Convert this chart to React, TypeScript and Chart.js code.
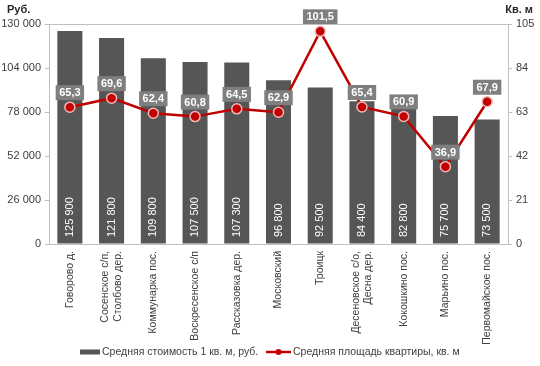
import React, { useEffect, useRef } from "react";
import { Chart, registerables } from "chart.js";

Chart.register(...registerables);

const categories: string[][] = [
  ["Говорово д."],
  ["Сосенское с/п,", "Столбово дер."],
  ["Коммунарка пос."],
  ["Воскресенское с/п"],
  ["Рассказовка дер."],
  ["Московский"],
  ["Троицк"],
  ["Десеновское с/о,", "Десна дер."],
  ["Кокошкино пос."],
  ["Марьино пос."],
  ["Первомайское пос."],
];
const pricePerSqm = [125900, 121800, 109800, 107500, 107300, 96800, 92500, 84400, 82800, 75700, 73500];
const avgArea = [65.3, 69.6, 62.4, 60.8, 64.5, 62.9, 101.5, 65.4, 60.9, 36.9, 67.9];
const leftTicks = [0, 26000, 52000, 78000, 104000, 130000];
const rightTicks = [0, 21, 42, 63, 84, 105];
const barLabel = "Средняя стоимость 1 кв. м, руб.";
const lineLabel = "Средняя площадь квартиры, кв. м";
const leftTitle = "Руб.";
const rightTitle = "Кв. м";

const BAR_COLOR = "#565656";
const LINE_COLOR = "#C00000";
const TEXT_COLOR = "#404040";
const AXIS_COLOR = "#bfbfbf";
const FONT = "'Liberation Sans', Arial, sans-serif";

const fmtThousands = (v: number) => String(v).replace(/\B(?=(\d{3})+(?!\d))/g, " ");
const fmtComma = (v: number) => v.toFixed(1).replace(".", ",");

const labelsPlugin = {
  id: "customLabels",
  afterDatasetsDraw(chart: any) {
    const ctx = chart.ctx;
    const area = chart.chartArea;
    const barMeta = chart.getDatasetMeta(0);
    ctx.save();
    ctx.font = `11px ${FONT}`;
    ctx.fillStyle = "#ffffff";
    ctx.textAlign = "left";
    ctx.textBaseline = "middle";
    barMeta.data.forEach((el: any, i: number) => {
      ctx.save();
      ctx.translate(el.x, area.bottom - 7);
      ctx.rotate(-Math.PI / 2);
      ctx.fillText(fmtThousands(pricePerSqm[i]), 0, 0);
      ctx.restore();
    });
    ctx.restore();
  },
  afterDraw(chart: any) {
    const ctx = chart.ctx;
    const area = chart.chartArea;
    const xScale = chart.scales.x;

    // category labels (rotated, reading bottom-to-top)
    ctx.save();
    ctx.font = `10.5px ${FONT}`;
    ctx.fillStyle = TEXT_COLOR;
    ctx.textAlign = "right";
    ctx.textBaseline = "middle";
    const lh = 12.5;
    categories.forEach((lines, i) => {
      const x = xScale.getPixelForValue(i);
      const n = lines.length;
      lines.forEach((ln, j) => {
        const off = (j - (n - 1) / 2) * lh;
        ctx.save();
        ctx.translate(x + off, area.bottom + 7);
        ctx.rotate(-Math.PI / 2);
        ctx.fillText(ln, 0, 0);
        ctx.restore();
      });
    });
    ctx.restore();

    // line value labels
    const lineMeta = chart.getDatasetMeta(1);
    ctx.save();
    ctx.font = `bold 11px ${FONT}`;
    ctx.textAlign = "center";
    ctx.textBaseline = "middle";
    lineMeta.data.forEach((el: any, i: number) => {
      const txt = fmtComma(avgArea[i]);
      const w = ctx.measureText(txt).width + 7;
      const h = 15;
      const bottom = el.y - 7;
      ctx.fillStyle = "#7f7f7f";
      ctx.fillRect(el.x - w / 2, bottom - h, w, h);
      ctx.fillStyle = "#ffffff";
      ctx.fillText(txt, el.x, bottom - h / 2 + 0.5);
    });
    ctx.restore();

    // top border line
    ctx.save();
    ctx.strokeStyle = AXIS_COLOR;
    ctx.lineWidth = 1;
    ctx.beginPath();
    ctx.moveTo(area.left - 4, Math.round(area.top) + 0.5);
    ctx.lineTo(area.right, Math.round(area.top) + 0.5);
    ctx.stroke();
    ctx.restore();

    // axis titles
    ctx.save();
    ctx.font = `bold 11px ${FONT}`;
    ctx.fillStyle = "#262626";
    ctx.textBaseline = "middle";
    ctx.textAlign = "left";
    ctx.fillText(leftTitle, 7, 10);
    ctx.textAlign = "right";
    ctx.fillText(rightTitle, 533, 10);
    ctx.restore();

    // legend
    ctx.save();
    const ly = 352;
    ctx.font = `10.5px ${FONT}`;
    ctx.textBaseline = "middle";
    ctx.textAlign = "left";
    ctx.fillStyle = BAR_COLOR;
    ctx.fillRect(80, ly - 2.5, 20, 5);
    ctx.fillStyle = TEXT_COLOR;
    ctx.fillText(barLabel, 102, ly);
    ctx.strokeStyle = LINE_COLOR;
    ctx.lineWidth = 2.5;
    ctx.beginPath();
    ctx.moveTo(266, ly);
    ctx.lineTo(291, ly);
    ctx.stroke();
    ctx.fillStyle = LINE_COLOR;
    ctx.beginPath();
    ctx.arc(278.5, ly, 3, 0, Math.PI * 2);
    ctx.fill();
    ctx.fillStyle = TEXT_COLOR;
    ctx.fillText(lineLabel, 293, ly);
    ctx.restore();
  },
};

export default function App() {
  const ref = useRef<HTMLCanvasElement>(null);
  useEffect(() => {
    if (!ref.current) return;
    const chart = new Chart(ref.current, {
      data: {
        labels: categories.map((c) => c.join(" ")),
        datasets: [
          {
            type: "bar",
            label: barLabel,
            data: pricePerSqm,
            backgroundColor: BAR_COLOR,
            yAxisID: "y",
            categoryPercentage: 1,
            barPercentage: 0.6,
            order: 2,
          },
          {
            type: "line",
            label: lineLabel,
            data: avgArea,
            borderColor: LINE_COLOR,
            borderWidth: 2.5,
            backgroundColor: LINE_COLOR,
            pointBackgroundColor: LINE_COLOR,
            pointBorderColor: "#f4b5b5",
            pointBorderWidth: 1.5,
            pointRadius: 5,
            yAxisID: "y1",
            order: 1,
          },
        ],
      } as any,
      options: {
        animation: false,
        responsive: true,
        maintainAspectRatio: false,
        layout: { padding: { top: 24, bottom: 30, left: 0, right: 0 } },
        plugins: { legend: { display: false }, tooltip: { enabled: false } },
        scales: {
          x: {
            grid: { display: false, drawTicks: false },
            border: { color: AXIS_COLOR },
            ticks: { display: false },
            afterFit: (s: any) => {
              s.height = 92;
            },
          },
          y: {
            position: "left",
            min: 0,
            max: 130000,
            afterBuildTicks: (s: any) => {
              s.ticks = leftTicks.map((v) => ({ value: v }));
            },
            grid: {
              color: "transparent",
              tickColor: AXIS_COLOR,
              tickLength: 4,
            },
            border: { color: AXIS_COLOR },
            ticks: {
              color: TEXT_COLOR,
              font: { family: FONT, size: 11 },
              padding: 4,
              callback: (v: any) => fmtThousands(Number(v)),
            },
            afterFit: (s: any) => {
              s.width = 49;
            },
          },
          y1: {
            position: "right",
            min: 0,
            max: 105,
            afterBuildTicks: (s: any) => {
              s.ticks = rightTicks.map((v) => ({ value: v }));
            },
            grid: {
              drawOnChartArea: false,
              color: AXIS_COLOR,
              tickColor: AXIS_COLOR,
              tickLength: 4,
            },
            border: { color: AXIS_COLOR },
            ticks: {
              color: TEXT_COLOR,
              font: { family: FONT, size: 11 },
              padding: 4,
            },
            afterFit: (s: any) => {
              s.width = 32;
            },
          },
        },
      } as any,
      plugins: [labelsPlugin],
    });
    return () => chart.destroy();
  }, []);
  return (
    <div style={{ position: "absolute", left: 0, top: 0, width: 540, height: 366 }}>
      <canvas ref={ref} />
    </div>
  );
}
